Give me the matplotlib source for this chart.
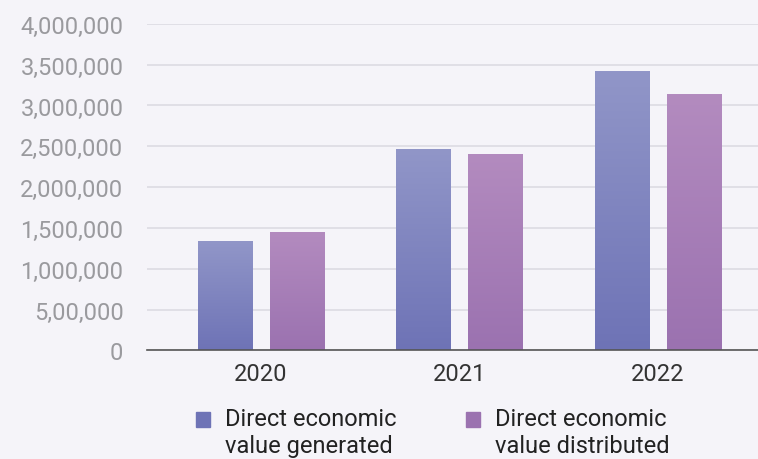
import matplotlib.pyplot as plt
import numpy as np
from matplotlib.colors import LinearSegmentedColormap
from matplotlib.patches import Rectangle

plt.rcParams['font.family'] = ['Roboto', 'DejaVu Sans']

years = ['2020', '2021', '2022']
generated = [1325000, 2455000, 3410000]
distributed = [1435000, 2395000, 3130000]
series_names = ['Direct economic\nvalue generated', 'Direct economic\nvalue distributed']
yticks = [0, 500000, 1000000, 1500000, 2000000, 2500000, 3000000, 3500000, 4000000]
ytick_labels = ['0', '5,00,000', '1,000,000', '1,500,000', '2,000,000',
                '2,500,000', '3,000,000', '3,500,000', '4,000,000']

bg = '#f5f4f9'
# (top colour, bottom colour) per series
grads = [('#9196c8', '#6e73b6'), ('#b38bbf', '#9b72b0')]
offsets = [-0.18, 0.184]
width = 0.277

fig = plt.figure(figsize=(7.58, 4.6), dpi=100, facecolor=bg)
ax = fig.add_axes([0.194, 0.236, 0.806, 0.710])
ax.set_facecolor(bg)

x = np.arange(len(years))
grad = np.linspace(1, 0, 256).reshape(-1, 1)
for vals, (ctop, cbot), off in zip([generated, distributed], grads, offsets):
    cmap = LinearSegmentedColormap.from_list('g', [cbot, ctop])
    bars = ax.bar(x + off, vals, width, color=cbot, zorder=2)
    for b in bars:
        x0, y0 = b.get_x(), b.get_y()
        ax.imshow(grad, cmap=cmap, aspect='auto', zorder=3,
                  extent=[x0, x0 + b.get_width(), y0, y0 + b.get_height()],
                  vmin=0, vmax=1)

ax.set_xlim(-0.575, 2.505)
ax.set_ylim(0, 4000000)
ax.set_yticks(yticks)
ax.set_yticklabels(ytick_labels)
ax.set_xticks(x)
ax.set_xticklabels(years)
ax.grid(axis='y', color='#dcdbe3', lw=1.2, zorder=0)
ax.set_axisbelow(True)
for s in ['top', 'right', 'left']:
    ax.spines[s].set_visible(False)
ax.spines['bottom'].set_color('#555555')
ax.spines['bottom'].set_linewidth(1.2)
ax.spines['bottom'].set_zorder(4)
ax.tick_params(axis='y', length=0, pad=17, labelsize=17, labelcolor='#9a9a9e')
ax.tick_params(axis='x', length=0, pad=8, labelsize=17, labelcolor='#333333')

# legend drawn by hand
leg_x = [196, 466]
for name, (ctop, cbot), lx in zip(series_names, grads, leg_x):
    fig.patches.append(Rectangle((lx / 758, 1 - 428 / 460), 14 / 758, 15 / 460,
                                 transform=fig.transFigure, color=cbot))
    fig.text((lx + 29) / 758, 1 - 408 / 460, name, fontsize=17, color='#222222',
             va='top', ha='left', linespacing=1.22)

plt.savefig('out.png', dpi=100, facecolor=bg)
